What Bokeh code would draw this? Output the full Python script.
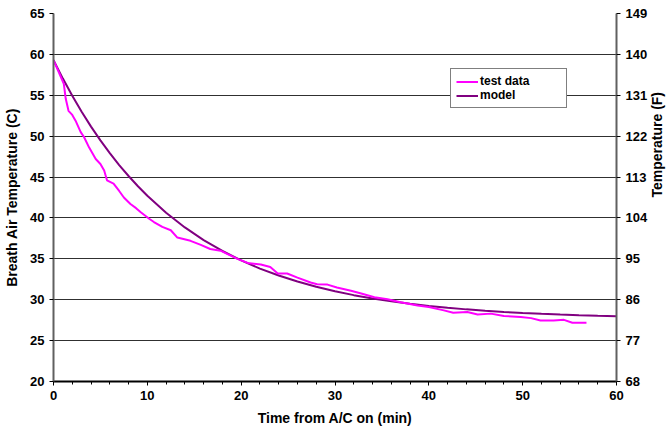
import math
from bokeh.plotting import figure
from bokeh.models import Range1d, LinearAxis, FixedTicker, Legend, LegendItem
from bokeh.embed import file_html
from bokeh.resources import INLINE

# ---- data ----
test_time = [0, 0.5, 1.1, 1.3, 1.6, 2.0, 2.35, 2.9, 3.25, 3.8, 4.5, 5.0, 5.4, 5.7,
             6.4, 7.0, 7.5, 8.2, 8.8, 9.3, 10.2, 10.7, 11.6, 12.5, 13.2, 14.6, 15.7,
             16.7, 17.8, 18.5, 19.6, 20.7, 22.1, 23.1, 23.9, 24.9, 26.0, 27.4, 28.1,
             29.2, 30.2, 31.7, 32.7, 34.2, 35.6, 37.0, 38.8, 40.0, 41.6, 42.6, 44.1,
             45.2, 46.6, 48.0, 49.8, 50.9, 51.9, 53.3, 54.4, 55.3, 56.8]
test_temp = [59.3, 58.0, 56.4, 54.6, 53.1, 52.6, 51.9, 50.5, 49.9, 48.6, 47.2, 46.6,
             45.8, 44.6, 44.2, 43.3, 42.5, 41.7, 41.2, 40.7, 39.9, 39.5, 38.9, 38.5,
             37.6, 37.2, 36.7, 36.2, 36.0, 35.6, 35.0, 34.5, 34.3, 34.0, 33.2, 33.2,
             32.7, 32.1, 31.9, 31.85, 31.5, 31.1, 30.8, 30.3, 30.05, 29.7, 29.3, 29.1,
             28.7, 28.4, 28.5, 28.2, 28.3, 28.0, 27.9, 27.75, 27.46, 27.46, 27.54,
             27.18, 27.18]

model_time = [0, 1, 2, 3, 4, 5, 6, 7, 8, 9, 10, 12, 14, 16, 18, 20, 22, 24, 26, 28,
              30, 32, 34, 36, 38, 40, 42, 44, 46, 48, 50, 52, 54, 56, 58, 60]
model_temp = [59.3, 57.04, 54.93, 52.98, 51.17, 49.49, 47.93, 46.47, 45.13, 43.88,
              42.71, 40.63, 38.84, 37.29, 35.96, 34.81, 33.81, 32.96, 32.22, 31.58,
              31.04, 30.56, 30.15, 29.80, 29.50, 29.24, 29.01, 28.82, 28.65, 28.51,
              28.38, 28.27, 28.18, 28.10, 28.03, 27.97]

x_ticks = [0, 10, 20, 30, 40, 50, 60]
x_minor = list(range(0, 61, 2))
c_ticks = [20, 25, 30, 35, 40, 45, 50, 55, 60, 65]
f_ticks = [68, 77, 86, 95, 104, 113, 122, 131, 140, 149]

FONT = "Liberation Sans"

p = figure(frame_width=563, frame_height=368,
           x_range=Range1d(0, 60), y_range=Range1d(20, 65),
           output_backend="svg", toolbar_location=None,
           min_border_left=53, min_border_right=50, min_border_top=13,
           min_border_bottom=50)
p.extra_y_ranges = {"f": Range1d(68, 149)}
p.outline_line_color = None
p.background_fill_color = "white"
p.border_fill_color = "white"

# grid
p.xgrid.visible = False
p.ygrid.ticker = FixedTicker(ticks=c_ticks)
p.ygrid.grid_line_color = "#303030"
p.ygrid.grid_line_width = 1

# x axis
xa = p.xaxis[0]
xa.ticker = FixedTicker(ticks=x_ticks, minor_ticks=x_minor)
xa.axis_label = "Time from A/C on (min)"

# left axis
ya = p.yaxis[0]
ya.ticker = FixedTicker(ticks=c_ticks)
ya.axis_label = "Breath Air Temperature (C)"

# right axis
ra = LinearAxis(y_range_name="f", ticker=FixedTicker(ticks=f_ticks),
                axis_label="Temperature (F)")
p.add_layout(ra, "right")

for ax in [xa, ya, ra]:
    ax.major_label_text_font = FONT
    ax.major_label_text_font_style = "bold"
    ax.major_label_text_font_size = "13px"
    ax.major_label_text_color = "black"
    ax.axis_label_text_font = FONT
    ax.axis_label_text_font_style = "bold"
    ax.axis_label_text_font_size = "14px"
    ax.axis_label_text_color = "black"
    ax.major_tick_in = 0
    ax.major_tick_out = 4
    ax.minor_tick_in = 0
    ax.minor_tick_out = 3
    ax.major_tick_line_color = "black"
    ax.minor_tick_line_color = "black"
    ax.axis_line_width = 2
    ax.major_label_standoff = 5
    ax.axis_label_standoff = 7

xa.axis_line_color = "black"
ya.axis_line_color = "#606060"
ra.axis_line_color = "#606060"
ya.minor_tick_line_color = None
ra.minor_tick_line_color = None
ra.axis_label_orientation = math.pi / 2

r_model = p.line(model_time, model_temp, line_color="#800080", line_width=2)
r_test = p.line(test_time, test_temp, line_color="#FF00FF", line_width=2)

legend = Legend(items=[LegendItem(label="test data", renderers=[r_test]),
                       LegendItem(label="model", renderers=[r_model])],
                location=(397, 273))
legend.label_text_font = FONT
legend.label_text_font_style = "bold"
legend.label_text_font_size = "12px"
legend.label_text_color = "black"
legend.label_height = 11
legend.glyph_height = 11
legend.glyph_width = 22
legend.label_standoff = 2
legend.label_width = 81
legend.padding = 5
legend.spacing = 0
legend.margin = 0
legend.border_line_color = "black"
legend.border_line_width = 1
legend.background_fill_color = "white"
legend.background_fill_alpha = 1
p.add_layout(legend, "center")

open("out.html", "w").write(file_html(p, INLINE))
